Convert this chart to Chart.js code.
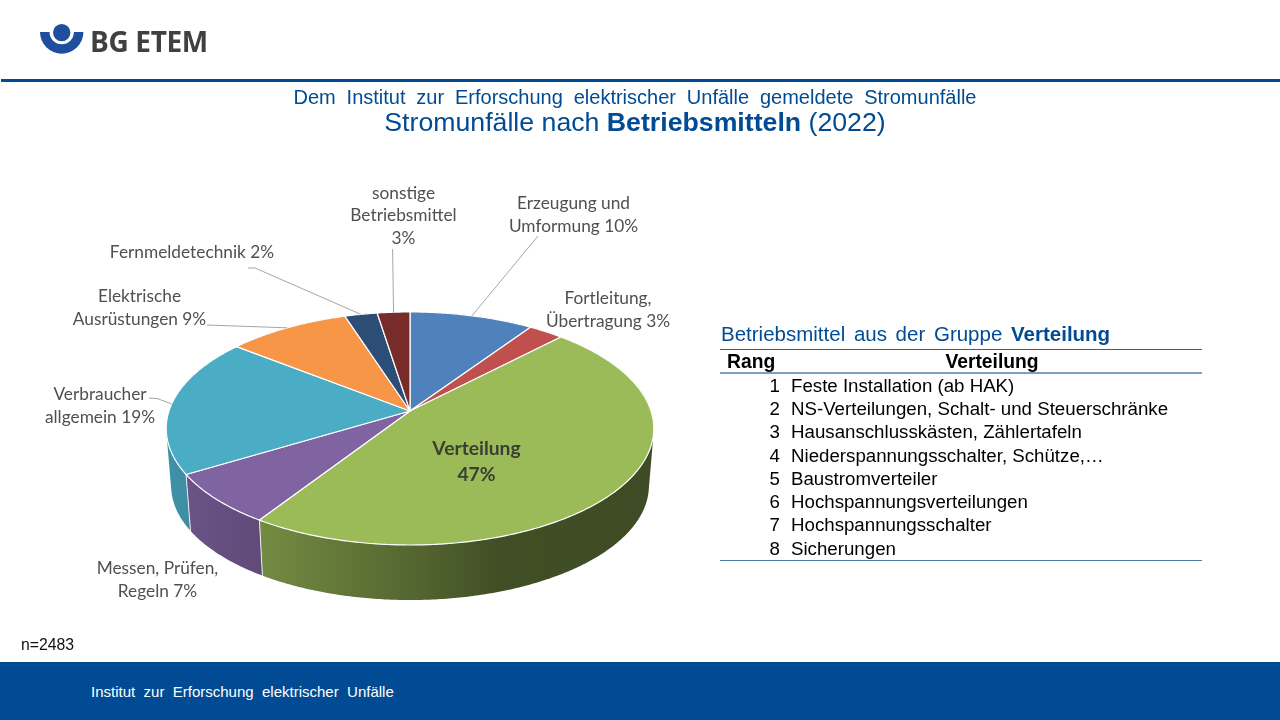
<!DOCTYPE html>
<html lang="de">
<head>
<meta charset="utf-8">
<title>Stromunfälle nach Betriebsmitteln (2022)</title>
<script src="https://cdn.jsdelivr.net/npm/chart.js@4/dist/chart.umd.min.js"></script>
<style>
  html, body { margin: 0; padding: 0; background: #fff; }
  body { width: 1280px; height: 720px; position: relative; overflow: hidden; font-family: "Liberation Sans", Arial, sans-serif; }
  canvas { position: absolute; left: 0; top: 0; }
  .abs { position: absolute; white-space: nowrap; }
  #topline { left: 1px; right: 0; top: 79px; height: 3px; background: #004b93; }
  #brand { left: 90px; top: 22px; font: 700 28px/38px "Open Sans", sans-serif; color: #404040; letter-spacing: -0.35px; }
  #logo { left: 36px; top: 20px; }
  #sub, #main { left: 0; width: 1270px; text-align: center; color: #004b93; }
  #sub { top: 85px; font-size: 20px; line-height: 24px; word-spacing: 5.3px; }
  #main { top: 106px; font-size: 26.7px; line-height: 32px; }
  #n { left: 21px; top: 636px; font-size: 15.8px; line-height: 18px; color: #111; }
  #footer { left: 0; right: 0; top: 662px; height: 58px; background: #004b93; }
  #footertext { left: 91px; top: 683px; font-size: 15px; line-height: 18px; color: #fff; word-spacing: 4.2px; }
  #tabletitle { left: 721px; top: 322px; font-size: 20.5px; line-height: 24px; color: #004b93; word-spacing: 3px; }
  #rule1, #rule2, #rule3 { left: 720px; width: 482px; }
  #rule1 { top: 349px; height: 1px; background: #2f6096; }
  #rule2 { top: 372px; height: 2px; background: #7f9fc4; }
  #rule3 { top: 560px; height: 1px; background: #4d7aa8; }
  #rang, #verteilung { top: 351px; font-weight: bold; font-size: 19.3px; line-height: 21px; color: #000; }
  #rang { left: 727px; }
  #verteilung { left: 782px; width: 420px; text-align: center; }
  .rownum { left: 740px; width: 40px; text-align: right; font-size: 18.7px; line-height: 21px; color: #000; }
  .rowtext { left: 791px; font-size: 18.7px; line-height: 21px; color: #000; }
</style>
</head>
<body>
<canvas id="pie" width="1280" height="720"></canvas>
<svg id="logo" class="abs" width="52" height="38" viewBox="36 20 52 38">
  <path d="M40 32 H83.4 A21.7 21.7 0 0 1 40 32 Z" fill="#1f4e9e"/>
  <circle cx="61.7" cy="32" r="12.2" fill="#fff"/>
  <circle cx="61.7" cy="32.6" r="8.7" fill="#1f4e9e"/>
</svg>
<div id="brand" class="abs">BG ETEM</div>
<div id="topline" class="abs"></div>
<div id="sub" class="abs">Dem Institut zur Erforschung elektrischer Unfälle gemeldete Stromunfälle</div>
<div id="main" class="abs">Stromunfälle nach <b>Betriebsmitteln</b> (2022)</div>
<div id="tabletitle" class="abs">Betriebsmittel aus der Gruppe <b>Verteilung</b></div>
<div id="rule1" class="abs"></div>
<div id="rang" class="abs">Rang</div>
<div id="verteilung" class="abs">Verteilung</div>
<div id="rule2" class="abs"></div>
<div id="rows"></div>
<div id="rule3" class="abs"></div>
<div id="n" class="abs">n=2483</div>
<div id="footer" class="abs"></div>
<div id="footertext" class="abs">Institut zur Erforschung elektrischer Unfälle</div>

<script>
// slices, clockwise from the top
const categories = ["Erzeugung und Umformung", "Fortleitung, Übertragung", "Verteilung", "Messen, Prüfen, Regeln", "Verbraucher allgemein", "Elektrische Ausrüstungen", "Fernmeldetechnik", "sonstige Betriebsmittel"]
const shares = [9.5, 2.7, 47.0, 7.2, 19.2, 9.4, 2.5, 2.5]
const colors = ["#4f81bd", "#c0504d", "#9bbb59", "#8064a2", "#4bacc6", "#f79646", "#2c4d75", "#772c2a"]

const labelLines = [
  ["Erzeugung und", "Umformung 10%"],
  ["Fortleitung,", "Übertragung 3%"],
  ["Verteilung", "47%"],
  ["Messen, Prüfen,", "Regeln 7%"],
  ["Verbraucher", "allgemein 19%"],
  ["Elektrische", "Ausrüstungen 9%"],
  ["Fernmeldetechnik 2%"],
  ["sonstige", "Betriebsmittel", "3%"]
]

const rangNumbers = [1, 2, 3, 4, 5, 6, 7, 8]
const rangNames = ["Feste Installation (ab HAK)", "NS-Verteilungen, Schalt- und Steuerschränke", "Hausanschlusskästen, Zählertafeln", "Niederspannungsschalter, Schütze,…", "Baustromverteiler", "Hochspannungsverteilungen", "Hochspannungsschalter", "Sicherungen"]

// label placement: centre x and the y of the first line
const labelPos = [[573.5, 203], [608, 298], [476.5, 449], [157.5, 568], [100, 394], [139.5, 296], [192, 252], [403.5, 193]]
const lineGap = [23, 23, 25.5, 23, 23, 23, 23, 22.5]
// leader lines run from the slice rim back to these points
const leaders = { 0: [[538, 236]], 4: [[157, 398.5], [149, 398]], 5: [[207, 325]], 6: [[255, 268], [248, 268]], 7: [[392.6, 249]] }

// the pie is tilted away from the viewer, so the apex sits above the ellipse centre
const apexX = 410, apexY = 411
const radiusX = 241, radiusY = 113.9, tilt = 0.15
const wallDrop = 57.7, wallShrink = 0.98

function rimPoint(theta, drop) {
  const w = 1 + tilt * Math.cos(theta)
  const s = drop ? wallShrink : 1
  return [apexX + s * radiusX * Math.sin(theta) / w, apexY + (drop ? wallDrop : 0) - s * radiusY * Math.cos(theta) / w]
}

function shade(hex, f) {
  const v = parseInt(hex.slice(1), 16)
  return `rgb(${Math.round((v >> 16) * f)},${Math.round(((v >> 8) & 255) * f)},${Math.round((v & 255) * f)})`
}

function sliceAngles(arc) {
  const p = arc.getProps(["startAngle", "endAngle"], true)
  return [p.startAngle + Math.PI / 2, p.endAngle + Math.PI / 2]
}

// adds a quad to the current path, always wound the same way so overlaps do not cancel
function addQuad(ctx, pts) {
  let area = 0
  pts.forEach((p, i) => {
    const q = pts[(i + 1) % pts.length]
    area += p[0] * q[1] - q[0] * p[1]
  })
  const ordered = area < 0 ? pts.slice().reverse() : pts
  ctx.moveTo(ordered[0][0], ordered[0][1])
  ordered.slice(1).forEach(p => ctx.lineTo(p[0], p[1]))
  ctx.closePath()
}

const tiltedPie = {
  id: "tiltedPie",
  beforeDatasetDraw(chart, args) {
    const ctx = chart.ctx
    const arcs = args.meta.data
    ctx.save()
    ctx.lineJoin = "round"

    // outer walls first, the top faces cover whatever faces away.
    // one quad per step so the sides also reach the tangent between both rims
    arcs.forEach((arc, i) => {
      const [a, b] = sliceAngles(arc)
      const grad = ctx.createLinearGradient(166, 0, 654, 0)
      grad.addColorStop(0, shade(colors[i], 0.85))
      grad.addColorStop(0.2, shade(colors[i], 0.74))
      grad.addColorStop(0.5, shade(colors[i], 0.55))
      grad.addColorStop(0.68, shade(colors[i], 0.42))
      grad.addColorStop(1, shade(colors[i], 0.40))
      ctx.beginPath()
      const steps = Math.max(2, Math.ceil((b - a) / 0.01))
      for (let s = 0; s < steps; s++) {
        const t0 = a + (b - a) * s / steps, t1 = a + (b - a) * (s + 1) / steps
        addQuad(ctx, [rimPoint(t0, false), rimPoint(t1, false), rimPoint(t1, true), rimPoint(t0, true)])
      }
      ctx.fillStyle = grad
      ctx.fill()
    })
    arcs.forEach(arc => {
      const a = sliceAngles(arc)[0]
      const top = rimPoint(a, false), bottom = rimPoint(a, true)
      ctx.beginPath()
      ctx.moveTo(top[0], top[1])
      ctx.lineTo(bottom[0], bottom[1])
      ctx.strokeStyle = "rgba(255,255,255,0.85)"
      ctx.lineWidth = 1
      ctx.stroke()
    })

    // top faces
    arcs.forEach(arc => {
      const [a, b] = sliceAngles(arc)
      ctx.beginPath()
      ctx.moveTo(apexX, apexY)
      const steps = Math.max(2, Math.ceil((b - a) / 0.01))
      for (let s = 0; s <= steps; s++) {
        const pt = rimPoint(a + (b - a) * s / steps, false)
        ctx.lineTo(pt[0], pt[1])
      }
      ctx.closePath()
      ctx.fillStyle = arc.options.backgroundColor
      ctx.fill()
      ctx.strokeStyle = arc.options.borderColor
      ctx.lineWidth = arc.options.borderWidth
      ctx.stroke()
    })
    ctx.restore()
    return false
  },
  afterDraw(chart) {
    const ctx = chart.ctx
    const arcs = chart.getDatasetMeta(0).data
    ctx.save()
    ctx.strokeStyle = "#a6a6a6"
    ctx.lineWidth = 1
    Object.keys(leaders).forEach(k => {
      const [a, b] = sliceAngles(arcs[k])
      const from = rimPoint((a + b) / 2, false)
      ctx.beginPath()
      ctx.moveTo(from[0], from[1])
      leaders[k].forEach(pt => ctx.lineTo(pt[0], pt[1]))
      ctx.stroke()
    })
    ctx.textAlign = "center"
    ctx.textBaseline = "middle"
    labelLines.forEach((lines, i) => {
      const big = i === 2
      ctx.font = big ? 'bold 19.3px Lato, sans-serif' : '17.3px Lato, sans-serif'
      ctx.fillStyle = big ? "#3a3f33" : "#505050"
      lines.forEach((line, j) => ctx.fillText(line, labelPos[i][0], labelPos[i][1] + j * lineGap[i]))
    })
    ctx.restore()
  }
}

new Chart(document.getElementById("pie"), {
  type: "pie",
  data: {
    labels: categories,
    datasets: [{ data: shares, backgroundColor: colors, borderColor: "#ffffff", borderWidth: 1.2 }]
  },
  options: {
    responsive: false,
    animation: false,
    events: [],
    plugins: { legend: { display: false }, tooltip: { enabled: false } }
  },
  plugins: [tiltedPie]
})

const rowsEl = document.getElementById("rows")
const rowTops = [375, 398.2, 421.4, 444.5, 468, 491.2, 514.4, 538]
rangNames.forEach((name, i) => {
  rowsEl.insertAdjacentHTML("beforeend",
    `<div class="abs rownum" style="top:${rowTops[i]}px">${rangNumbers[i]}</div><div class="abs rowtext" style="top:${rowTops[i]}px">${name}</div>`)
})
</script>
</body>
</html>
